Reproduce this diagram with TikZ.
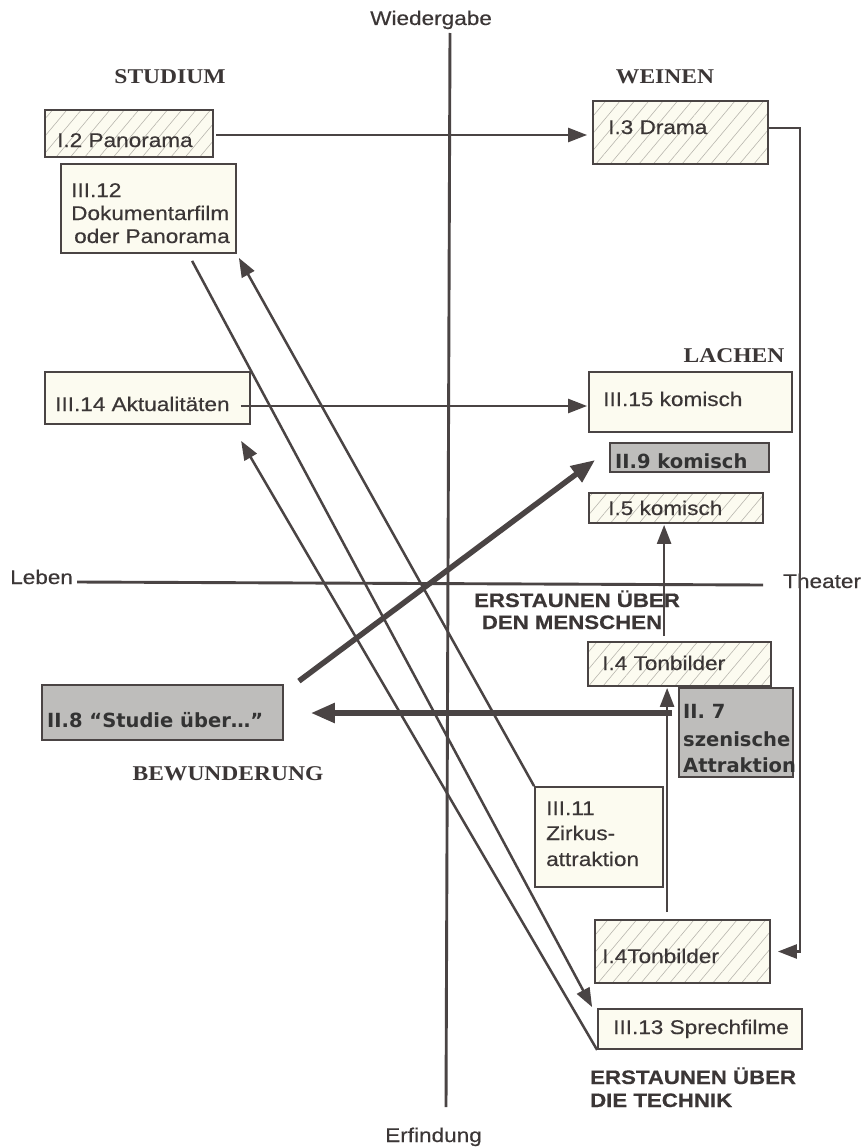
\documentclass[tikz,border=0pt]{standalone}
\usepackage{fontspec}
\usetikzlibrary{arrows.meta,patterns.meta,calc}
\newfontfamily\labfont[FakeStretch=1.14,FakeBold=0.4]{Liberation Sans}
\newfontfamily\hdrfont[FakeStretch=1.12]{Liberation Serif}
\newfontfamily\comicfont{DejaVu Sans}
\definecolor{lc}{HTML}{4A4444}
\definecolor{tc}{HTML}{3B3636}
\definecolor{cream}{HTML}{FCFBF0}
\definecolor{hatchc}{HTML}{B8B6AE}
\definecolor{grayfill}{HTML}{BEBDBB}
\newcommand\mybox[6]{%
  \pgfmathsetmacro\bw{#5-#3}\pgfmathsetmacro\bh{#6-#4}%
  \pgfmathsetmacro\cx{(#3+#5)/2}\pgfmathsetmacro\cy{(#4+#6)/2}%
  \node[#2,minimum width=\bw pt,minimum height=\bh pt,inner sep=0pt] (#1) at (\cx,\cy) {};}
\begin{document}
\begin{tikzpicture}[x=1pt,y=-1pt,
  plainbox/.style={draw=lc, line width=1.8pt, fill=cream},
  hatchbox/.style={draw=lc, line width=1.8pt, preaction={fill=cream},
     pattern={Lines[angle=50,distance=11pt,line width=0.6pt]}, pattern color=hatchc},
  graybox/.style={draw=lc, line width=1.8pt, fill=grayfill},
  lab/.style={inner sep=0pt, anchor=base west, text=tc, font=\labfont\fontsize{19.8}{23}\selectfont},
  blab/.style={inner sep=0pt, anchor=base west, text=tc, font=\labfont\bfseries\fontsize{19.5}{23}\selectfont},
  hdr/.style={inner sep=0pt, anchor=base, text=tc, font=\hdrfont\bfseries\fontsize{21}{24}\selectfont},
  clab/.style={inner sep=0pt, anchor=base west, text=black!80, font=\comicfont\bfseries\fontsize{19.5}{23}\selectfont},
  conn/.style={draw=lc, line width=2.5pt, -{Triangle[length=19pt,width=14pt]}},
  thickconn/.style={draw=lc, line width=5.5pt, -{Triangle[length=24pt,width=19pt]}},
  axis/.style={draw=lc, line width=2.9pt}]
\fill[white] (0,0) rectangle (866,1148);
\useasboundingbox (0,0) rectangle (866,1148);

% boxes
\mybox{i2}{hatchbox}{45}{110}{213}{157}
\mybox{iii12}{plainbox}{61}{164}{236}{253}
\mybox{i3}{hatchbox}{593}{101}{768}{164}
\mybox{iii14}{plainbox}{45}{372}{250}{424}
\mybox{iii15}{plainbox}{589}{372}{792}{432}
\mybox{ii9}{graybox}{610}{443}{769}{472}
\mybox{i5}{hatchbox}{589}{493}{763}{523}
\mybox{i4a}{hatchbox}{588}{642}{771}{686}
\mybox{ii7}{graybox}{679}{688}{793}{777}
\mybox{ii8}{graybox}{42}{685}{283}{740}
\mybox{iii11}{plainbox}{535}{787}{663}{887}
\mybox{i4b}{hatchbox}{595}{920}{770}{983}
\mybox{iii13}{plainbox}{598}{1009}{802}{1049}

% axis labels
\node[lab] (wied) at (370,25) {Wiedergabe};
\node[lab] (erf) at (385,1142) {Erfindung};
\node[lab] (leben) at (10,584) {Leben};
\node[lab] (theater) at (783,588) {Theater};
\coordinate (vtop) at (450,33);
\coordinate (vbot) at (446,1107);
\coordinate (hend) at (763,585);
\draw[axis] (vtop) -- (vbot);
\draw[axis] ($(leben.base east)+(4,-2)$) -- (hend);

% headings
\node[hdr] (studium) at (170,83) {STUDIUM};
\node[hdr] (weinen) at (665,83) {WEINEN};
\node[hdr] (lachen) at (734,362) {LACHEN};
\node[hdr] (bewund) at (228,780) {BEWUNDERUNG};
\node[blab, anchor=base] (em1) at (577,607) {ERSTAUNEN ÜBER};
\node[blab, anchor=base] (em2) at (572,629) {DEN MENSCHEN};
\node[blab] (et1) at (590,1084) {ERSTAUNEN ÜBER};
\node[blab] (et2) at (590,1107) {DIE TECHNIK};

% box texts
\node[lab] (t-i2) at (57,147) {I.2 Panorama};
\node[lab] (t-iii12a) at (71,197) {III.12};
\node[lab] (t-iii12b) at (71,220) {Dokumentarfilm};
\node[lab] (t-iii12c) at (74,243) {oder Panorama};
\node[lab] (t-i3) at (608,134) {I.3 Drama};
\node[lab] (t-iii14) at (55,411) {III.14 Aktualitäten};
\node[lab] (t-iii15) at (603,406) {III.15 komisch};
\node[clab] (t-ii9) at (615,468) {II.9 komisch};
\node[lab] (t-i5) at (608,515) {I.5 komisch};
\node[lab] (t-i4a) at (602,670) {I.4 Tonbilder};
\node[clab] (t-ii7a) at (683,718) {II. 7};
\node[clab] (t-ii7b) at (683,746) {szenische};
\node[clab] (t-ii7c) at (683,772) {Attraktion};
\node[clab] (t-ii8) at (47,727) {II.8 “Studie über…”};
\node[lab] (t-iii11a) at (546,815) {III.11};
\node[lab] (t-iii11b) at (546,840) {Zirkus-};
\node[lab] (t-iii11c) at (546,866) {attraktion};
\node[lab] (t-i4b) at (602,963) {I.4Tonbilder};
\node[lab] (t-iii13) at (613,1034) {III.13 Sprechfilme};

% connectors
\draw[conn] ($(i2.east)+(3,1.5)$) -- ($(i3.west)+(-5,2.5)$);
\draw[conn] ($(iii14.east)+(-10,8)$) -- ($(iii15.west)+(-1,4)$);
\draw[conn] ($(i3.east)+(0,-4.5)$) -- ++(31,0) |- ($(i4b.east)+(7,0)$);
\draw[conn] ($(i4b.north west)+(73,-7)$) -- ($(i4a.south west)+(80,1)$);
\draw[conn] ($(i4a.north west)+(77,-5)$) -- ($(i5.south west)+(76,1)$);
\draw[conn] ($(iii12.south west)+(132,7)$) -- ($(iii13.north west)+(-5,-1)$);
\draw[conn] (iii11.north west) -- ($(iii12.south east)+(2,4)$);
\draw[conn] (iii13.south west) -- ($(iii14.south west)+(197,16)$);
\draw[thickconn] ($(ii8.north east)+(15,-3)$) -- ($(ii9.west)+(-14,2.5)$);
\draw[thickconn] ($(ii7.west)+(-6,-19.5)$) -- ($(ii8.east)+(27,0.5)$);
\end{tikzpicture}
\end{document}
